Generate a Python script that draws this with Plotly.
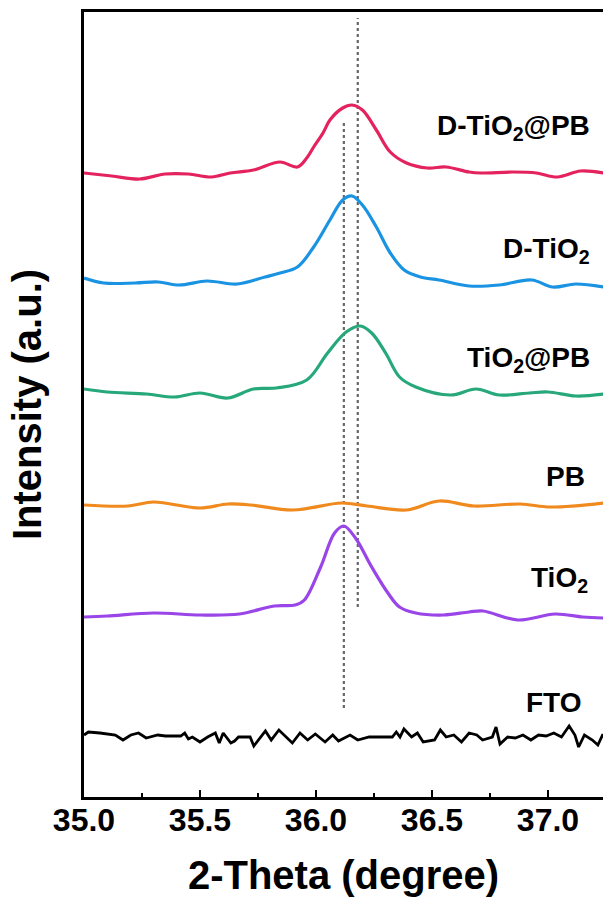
import plotly.graph_objects as go

# ---------------- data (stacked intensities, a.u.) ----------------
x_dtio2pb = [35.0, 35.12, 35.24, 35.35, 35.45, 35.55, 35.63, 35.73, 35.845, 35.92, 35.96, 35.99,
             36.03, 36.06, 36.115, 36.155, 36.2, 36.26, 36.32, 36.39, 36.48, 36.56, 36.66, 36.71,
             36.85, 36.95, 37.04, 37.14, 37.24]
y_dtio2pb = [624, 621, 618, 623, 623, 620, 624, 627, 635, 630, 639, 650,
             664, 677, 689, 692, 687, 667, 645, 634, 629, 630, 625, 624,
             625, 624, 620, 626, 624]

x_dtio2 = [35.0, 35.085, 35.22, 35.32, 35.41, 35.53, 35.66, 35.78, 35.845, 35.92, 35.99, 36.06,
           36.115, 36.155, 36.2, 36.26, 36.32, 36.38, 36.45, 36.53, 36.66, 36.79, 36.93, 37.02,
           37.12, 37.24]
y_dtio2 = [519, 514, 514, 515, 512, 516, 513, 520, 524, 530, 550, 577,
           597, 601, 592, 570, 544, 527, 520, 517, 511, 512, 517, 510,
           513, 510]

x_tio2pb = [35.0, 35.1, 35.27, 35.39, 35.5, 35.62, 35.73, 35.83, 35.96, 36.05, 36.13, 36.19,
            36.24, 36.3, 36.36, 36.43, 36.58, 36.69, 36.79, 36.92, 37.0, 37.12, 37.24]
y_tio2pb = [408, 405, 403, 400, 404, 399, 408, 409, 417, 444, 465, 471,
            464, 444, 420, 410, 402, 408, 402, 404, 405, 401, 403]

x_pb = [35.0, 35.19, 35.3, 35.5, 35.62, 35.72, 35.9, 36.11, 36.22, 36.39, 36.53, 36.68,
        36.88, 37.01, 37.24]
y_pb = [292, 291, 295, 289, 293, 292, 287, 294, 291, 287, 296, 291,
        293, 290, 294]

x_tio2 = [35.0, 35.1, 35.3, 35.5, 35.67, 35.82, 35.91, 35.95, 36.02, 36.08, 36.12, 36.17,
          36.24, 36.31, 36.36, 36.43, 36.55, 36.66, 36.72, 36.87, 37.03, 37.15, 37.24]
y_tio2 = [180, 181, 184, 182, 183, 191, 192, 197, 230, 264, 271, 259,
          230, 204, 190, 184, 182, 185, 186, 177, 183, 180, 179]

x_fto = [35.0, 35.019, 35.069, 35.135, 35.168, 35.202, 35.235, 35.268, 35.318, 35.351, 35.417,
         35.434, 35.45, 35.467, 35.5, 35.533, 35.566, 35.583, 35.6, 35.633, 35.649, 35.666,
         35.716, 35.732, 35.782, 35.807, 35.84, 35.898, 35.931, 35.964, 35.997, 36.039, 36.072,
         36.097, 36.147, 36.18, 36.229, 36.329, 36.346, 36.362, 36.379, 36.412, 36.437, 36.462,
         36.511, 36.536, 36.561, 36.594, 36.627, 36.66, 36.693, 36.718, 36.76, 36.776, 36.793,
         36.826, 36.859, 36.892, 36.926, 36.959, 36.992, 37.025, 37.058, 37.091, 37.116, 37.132,
         37.157, 37.191, 37.215, 37.237]
y_fto = [62, 65, 64, 62, 57, 62, 64, 59, 62, 61, 61,
         64, 58, 60, 55, 60, 64, 54, 64, 54, 56, 60,
         60, 51, 66, 57, 67, 54, 64, 57, 63, 55, 62,
         56, 62, 57, 60, 60, 65, 60, 68, 60, 64, 55,
         57, 67, 60, 62, 55, 64, 62, 57, 60, 70, 53,
         60, 59, 62, 57, 62, 61, 64, 60, 71, 62, 50,
         62, 57, 52, 63]

series_names = ["D-TiO<sub>2</sub>@PB", "D-TiO<sub>2</sub>", "TiO<sub>2</sub>@PB", "PB",
                "TiO<sub>2</sub>", "FTO"]
series_x = [x_dtio2pb, x_dtio2, x_tio2pb, x_pb, x_tio2, x_fto]
series_y = [y_dtio2pb, y_dtio2, y_tio2pb, y_pb, y_tio2, y_fto]
colors = ["#E4235E", "#1A93E3", "#27A87A", "#F08A1E", "#9A45E8", "#000000"]
label_x = [37.19, 37.19, 37.19, 37.17, 37.18, 37.15]
label_y = [670, 547, 438, 321, 218, 95]

ref_peaks = [36.12, 36.18]
ref_spans = [(89, 675), (190, 779)]

tick_vals = [35.0, 35.5, 36.0, 36.5, 37.0]
tick_text = ["35.0", "35.5", "36.0", "36.5", "37.0"]

FONT = "Arial, Liberation Sans, Helvetica, sans-serif"

fig = go.Figure()

for xp, (y0, y1) in zip(ref_peaks, ref_spans):
    fig.add_trace(go.Scatter(x=[xp, xp], y=[y0, y1], mode="lines",
                             line=dict(color="#666666", width=2.2, dash="dot"),
                             showlegend=False, hoverinfo="skip"))

for name, xs, ys, c in zip(series_names, series_x, series_y, colors):
    is_fto = (c == "#000000")
    fig.add_trace(go.Scatter(
        x=xs, y=ys, mode="lines", name=name,
        line=dict(color=c, width=2.8 if is_fto else 3.2,
                  shape="linear" if is_fto else "spline", smoothing=1.0),
        showlegend=False))

for name, lx, ly in zip(series_names, label_x, label_y):
    fig.add_annotation(x=lx, y=ly, xref="x", yref="y", text=name, showarrow=False,
                       xanchor="right", yanchor="middle",
                       font=dict(family=FONT, size=28, color="black", weight="bold"))

fig.update_layout(
    width=603, height=899,
    margin=dict(l=84, r=0, t=12, b=102),
    paper_bgcolor="white", plot_bgcolor="white",
    showlegend=False,
    font=dict(family=FONT, color="black"),
)

fig.update_xaxes(
    range=[35.0, 37.237],
    tickmode="array", tickvals=tick_vals, ticktext=tick_text,
    ticks="inside", ticklen=7, tickwidth=2, tickcolor="black",
    ticklabelstandoff=-7,
    minor=dict(tickmode="array", tickvals=[35.25, 35.75, 36.25, 36.75, 37.25],
               ticks="inside", ticklen=4, tickwidth=2, tickcolor="black"),
    showline=True, linewidth=2.5, linecolor="black", mirror=True,
    showgrid=False, zeroline=False,
    tickfont=dict(family=FONT, size=32, color="black", weight="bold"),
    title=dict(text="2-Theta (degree)", standoff=24,
               font=dict(family=FONT, size=40, color="black", weight="bold")),
)

fig.update_yaxes(
    range=[0, 785],
    showticklabels=False, ticks="",
    showline=True, linewidth=2.5, linecolor="black", mirror=False,
    showgrid=False, zeroline=False,
    title=dict(text="Intensity (a.u.)", standoff=28,
               font=dict(family=FONT, size=40, color="black", weight="bold")),
)

fig.write_html("out.html", config={"displayModeBar": False},
               post_script="document.body.style.margin='0';document.body.style.overflow='hidden';")
